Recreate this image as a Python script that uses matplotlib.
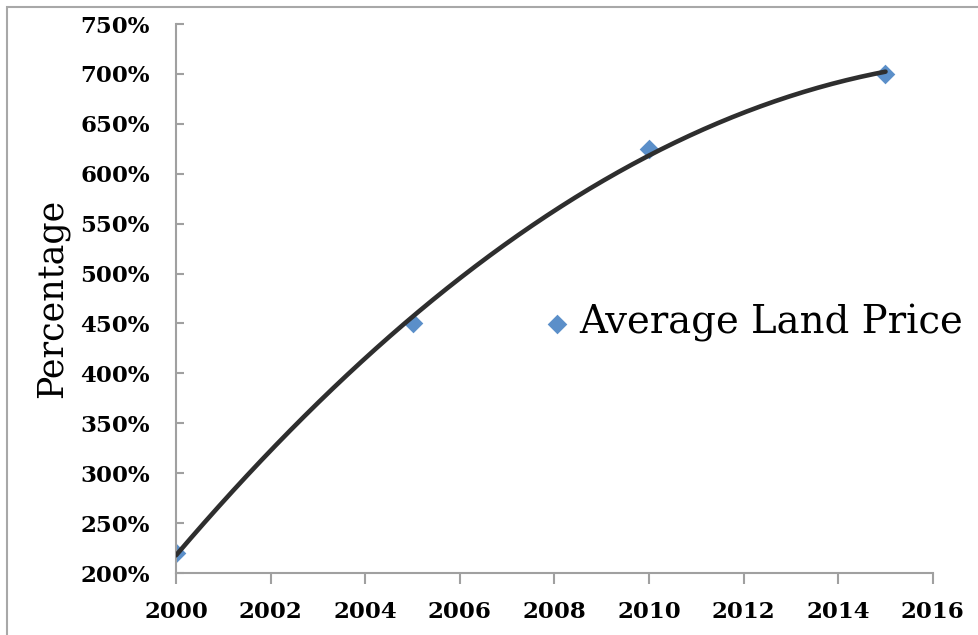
import numpy as np
import matplotlib.pyplot as plt
from matplotlib.patches import Rectangle
from matplotlib.ticker import FuncFormatter, MultipleLocator

years = [2000, 2005, 2010, 2015]
land_price_pct = [220, 450, 625, 700]
series_name = "Average Land Price"

plt.rcParams['font.family'] = ['DejaVu Serif']

fig = plt.figure(figsize=(9.79, 6.35), dpi=100)
ax = fig.add_axes([0.1798, 0.0976, 0.773, 0.8646])

# second order polynomial trendline through the points
coef = np.polyfit(years, land_price_pct, 2)
xs = np.linspace(years[0], years[-1], 200)
ax.plot(xs, np.polyval(coef, xs), color='#2e2e2e', lw=3.3, solid_capstyle='round', zorder=3)

ax.scatter(years, land_price_pct, marker='D', s=100, color='#5b8fc9', zorder=2,
           label=series_name, linewidths=0)

ax.set_xlim(2000, 2016)
ax.set_ylim(200, 750)
ax.xaxis.set_major_locator(MultipleLocator(2))
ax.yaxis.set_major_locator(MultipleLocator(50))
ax.yaxis.set_major_formatter(FuncFormatter(lambda v, p: f"{v:.0f}%"))

for s in ['top', 'right']:
    ax.spines[s].set_visible(False)
for s in ['left', 'bottom']:
    ax.spines[s].set_color('#a0a0a0')
    ax.spines[s].set_linewidth(1.5)

ax.tick_params(axis='y', direction='in', length=6, width=1.5, color='#a0a0a0', pad=19,
               labelsize=16.5)
ax.tick_params(axis='x', direction='out', length=8, width=1.5, color='#a0a0a0', pad=12,
               labelsize=16.5)
for lbl in ax.get_xticklabels() + ax.get_yticklabels():
    lbl.set_fontweight('bold')

ax.set_ylabel("Percentage", fontsize=25, labelpad=8)

ax.legend(loc='center left', bbox_to_anchor=(0.428, 0.455), frameon=False, fontsize=27.8,
          handletextpad=0.0, handlelength=1.15, markerscale=1.0)

# outer chart border
fig.patches.append(Rectangle((7 / 979, -0.1), 1.2, 1.1 - 7 / 635, transform=fig.transFigure,
                             fill=False, edgecolor='#a8a8a8', lw=1.5))

fig.savefig("out.png", dpi=100)
